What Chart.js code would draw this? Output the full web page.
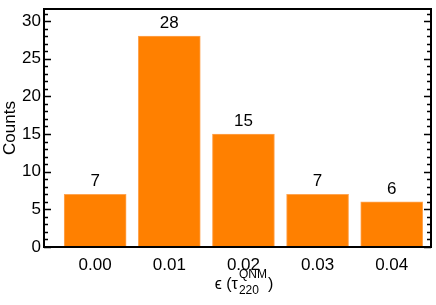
<!DOCTYPE html>
<html>
<head>
<meta charset="utf-8">
<script src="https://cdn.jsdelivr.net/npm/chart.js@4/dist/chart.umd.min.js"></script>
<style>
  html, body { margin: 0; padding: 0; background: #fff; }
  #wrap { width: 436px; height: 305px; }
</style>
</head>
<body>
<div id="wrap"><canvas id="histChart"></canvas></div>
<script>
// histogram data
const bins = [0.00, 0.01, 0.02, 0.03, 0.04];
const counts = [7, 28, 15, 7, 6];
const yTicks = [0, 5, 10, 15, 20, 25, 30];

const FONT = '"Liberation Sans", Arial, sans-serif';

// minor/major ticks on left and right, frame, bar labels and x title
const decorations = {
    id: 'decorations',
    afterDraw(chart) {
        const ctx = chart.ctx;
        const area = chart.chartArea;
        const y = chart.scales.y;
        ctx.save();
        ctx.strokeStyle = '#000';
        ctx.lineWidth = 1.5;
        for (let v = 0; v <= 31; v++) {
            const py = Math.round(y.getPixelForValue(v)) + 0.5;
            const len = v % 5 === 0 ? 7 : 4;
            ctx.beginPath();
            ctx.moveTo(area.left, py);
            ctx.lineTo(area.left + len, py);
            ctx.moveTo(area.right, py);
            ctx.lineTo(area.right - len, py);
            ctx.stroke();
        }
        // frame
        ctx.lineWidth = 2;
        ctx.strokeRect(area.left, area.top, area.right - area.left, area.bottom - area.top);

        // value labels above bars
        ctx.fillStyle = '#000';
        ctx.font = '17px ' + FONT;
        ctx.textAlign = 'center';
        ctx.textBaseline = 'alphabetic';
        const meta = chart.getDatasetMeta(0);
        meta.data.forEach((bar, i) => {
            ctx.fillText(String(counts[i]), bar.x, bar.y - 8);
        });

        // x axis title: epsilon (tau_220^QNM)
        const base = 289;
        const main1 = '\u03F5 (\u03C4';
        ctx.font = '16px ' + FONT;
        const w1 = ctx.measureText(main1).width;
        ctx.font = '12px ' + FONT;
        const wSup = ctx.measureText('QNM').width;
        const wSub = ctx.measureText('220').width;
        ctx.font = '16px ' + FONT;
        const w3 = ctx.measureText(')').width;
        const total = w1 + Math.max(wSup, wSub) + 2 + w3;
        let x = 244 - total / 2;
        ctx.textAlign = 'left';
        ctx.fillText(main1, x, base);
        x += w1 + 1;
        ctx.font = '12px ' + FONT;
        ctx.fillText('QNM', x, base - 11);
        ctx.fillText('220', x, base + 5);
        x += Math.max(wSup, wSub) + 1;
        ctx.font = '16px ' + FONT;
        ctx.fillText(')', x, base);
        ctx.restore();
    }
};

const ctx = document.getElementById('histChart').getContext('2d');
const histChart = new Chart(ctx, {
    type: 'bar',
    data: {
        datasets: [{
            data: bins.map((b, i) => ({ x: b, y: counts[i] })),
            backgroundColor: '#ff8000',
            borderColor: '#ffa552',
            borderWidth: 1,
            barThickness: 62
        }]
    },
    options: {
        responsive: true,
        maintainAspectRatio: false,
        animation: false,
        layout: { padding: { top: 9, right: 5, left: 0, bottom: 0 } },
        plugins: {
            legend: { display: false },
            tooltip: { enabled: false }
        },
        scales: {
            x: {
                type: 'linear',
                min: -0.0069,
                max: 0.0453,
                offset: false,
                grid: { display: false, drawTicks: false },
                border: { display: false },
                afterBuildTicks: (scale) => { scale.ticks = bins.map(v => ({ value: v })); },
                afterFit: (scale) => {
                    scale.height = 58;
                    scale.paddingLeft = 0;
                    scale.paddingRight = 0;
                },
                ticks: {
                    padding: 8,
                    color: '#000',
                    font: { family: FONT, size: 17 },
                    callback: (v) => Number(v).toFixed(2)
                }
            },
            y: {
                min: 0,
                max: 31.6,
                grid: { display: false, drawTicks: false },
                border: { display: false },
                afterBuildTicks: (scale) => { scale.ticks = yTicks.map(v => ({ value: v })); },
                afterFit: (scale) => {
                    scale.width = 44;
                    scale.paddingTop = 0;
                    scale.paddingBottom = 0;
                },
                ticks: {
                    padding: 3,
                    color: '#000',
                    font: { family: FONT, size: 17 }
                },
                title: {
                    display: true,
                    text: 'Counts',
                    color: '#000',
                    padding: 0,
                    font: { family: FONT, size: 17 }
                }
            }
        }
    },
    plugins: [decorations]
});
</script>
</body>
</html>
